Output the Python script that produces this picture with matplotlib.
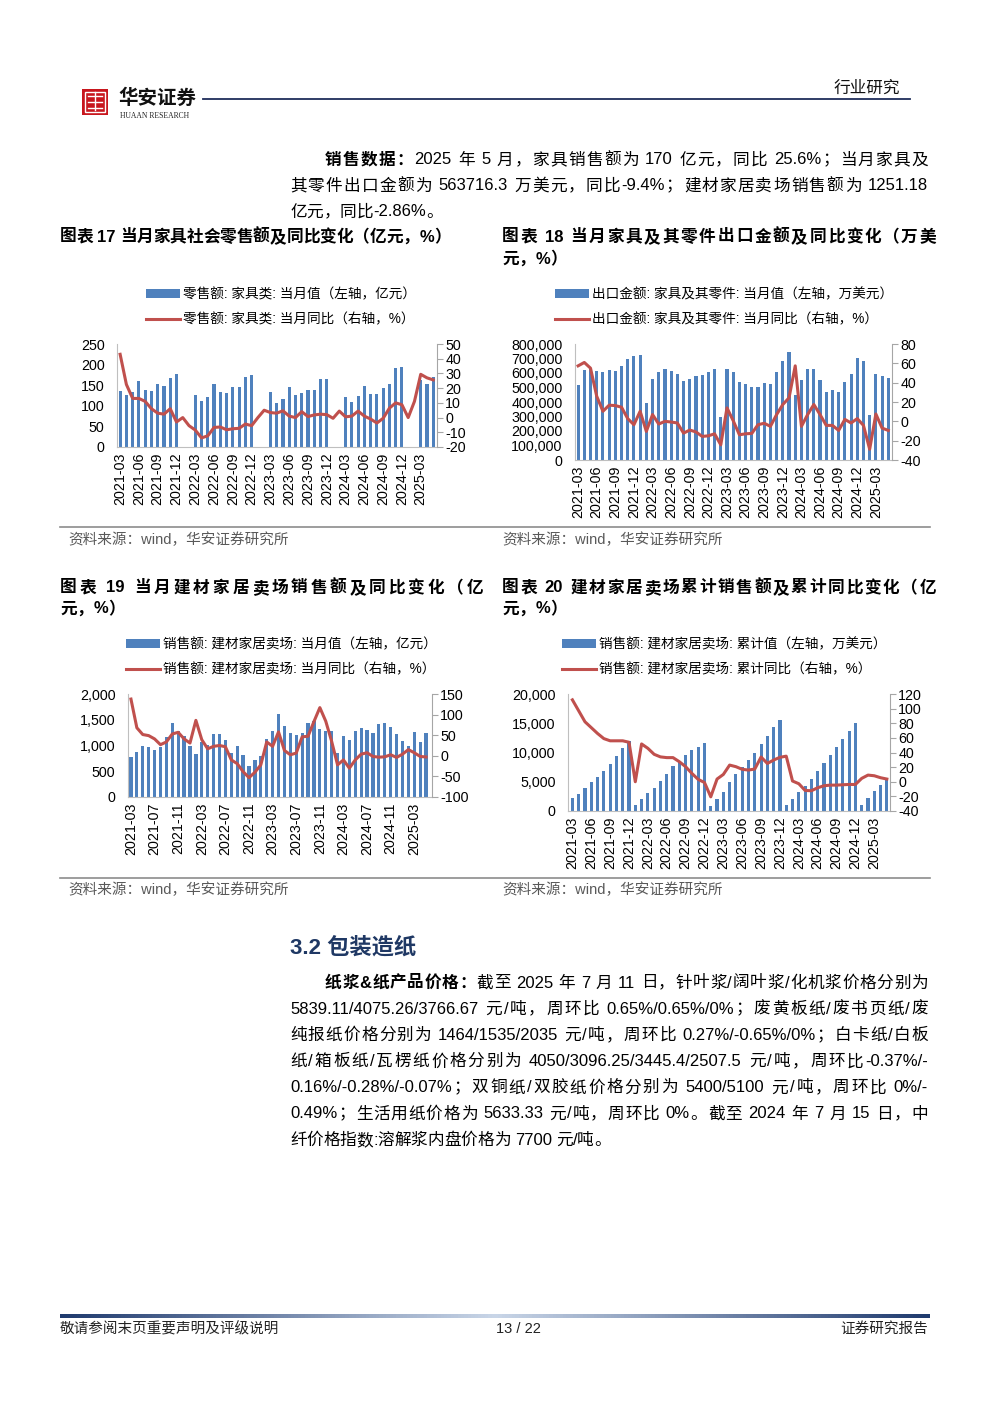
import re
import numpy as np
import pandas as pd
import matplotlib
matplotlib.use("Agg")
import matplotlib.pyplot as plt
from matplotlib.patches import Rectangle
from matplotlib.lines import Line2D
from matplotlib.colors import LinearSegmentedColormap

plt.rcParams['font.family'] = ['Liberation Sans', 'Noto Sans CJK SC', 'DejaVu Sans']
plt.rcParams['axes.unicode_minus'] = False

W, H = 1000, 1414
FAM = ['Liberation Sans', 'Noto Sans CJK SC', 'DejaVu Sans']
BLUE = '#4F81BD'
RED = '#C0504D'

# ---------------- data ----------------
months = list(pd.period_range('2021-03', '2025-05', freq='M').strftime('%Y-%m'))
nan = np.nan

# chart 17 furniture retail (亿元) and yoy (%)
furn_retail = [135, 127, 134, 161, 139, 137, 152, 149, 168, 177, nan, nan,
               126, 111, 122, 154, 134, 131, 145, 145, 170, 175, nan, nan,
               134, 108, 116, 146, 126, 130, 139, 138, 164, 166, nan, nan,
               121, 110, 124, 148, 129, 129, 143, 152, 191, 194, nan, nan,
               163, 153, 170]
furn_retail_yoy = [43, 22.5, 13, 13, 11, 6, 3, 2.3, 6, -3, 0, -5.5,
                   -8.5, -13.8, -12.4, -6.7, -6.4, -8.3, -7.6, -7.3, -4.4, -5.5, 0, 5,
                   3.4, 3, 4.6, 1, 0, 4, 0.7, 1.8, 2.3, 2, -0.5, 4.4,
                   0.5, 1, 4.4, 1, -1, -3.7, -0.5, 6.4, 10, 8.7, 0, 11,
                   29.4, 27, 25.6]

# chart 18 furniture export (万美元) and yoy (%)
furn_export = [518000, 624000, 629000, 617000, 604000, 624000, 615000, 645000, 698000, 714000,
               723000, 396000, 558000, 604000, 631000, 615000, 590000, 544000, 558000, 576000,
               585000, 606000, 629000, 295000, 631000, 604000, 537000, 523000, 502000, 505000,
               530000, 523000, 608000, 682000, 744000, 445000, 555000, 627000, 627000, 553000,
               472000, 484000, 468000, 537000, 592000, 705000, 684000, 313000, 594000, 576000,
               563716]
furn_export_yoy = [57.4, 60.9, 55, 26, 10.4, 16.7, 16.3, 14.6, 2.8, -3.5,
                   10.4, -10.4, 7, -2.8, 0, -0.7, -1.7, -12.2, -9, -11,
                   -15.6, -15, -12.9, -24.3, 13.9, 0.7, -13.9, -12.9, -12.5, -3.5,
                   -2, -5.2, 7, 17.4, 24.3, 57.4, -5.2, 7, 17.4, 7,
                   -4.2, -4.2, -9.4, 2, -1.7, 2.8, -4.2, -28.9, 7.6, -7,
                   -9.4]

# chart 19 building material mall monthly sales (亿元) and yoy (%)
mall_sales = [781, 872, 983, 970, 911, 963, 1165, 1432, 1276, 1191,
              983, 833, 1074, 1009, 1217, 1217, 1113, 859, 983, 820,
              605, 710, 788, 1126, 1289, 1621, 1387, 1243, 1198, 1250,
              1445, 1478, 1315, 1282, 1290, 860, 1185, 1107, 1282, 1348,
              1302, 1237, 1413, 1432, 1367, 1224, 1087, 996, 1270, 1074,
              1251.18]
mall_sales_yoy = [137.7, 68, 51.6, 49, 41, 27, 33.6, 53, 57, 41,
                  31, 86, 39, 17, 23, 25, 22, -10, -19, -38.5,
                  -53, -40, -22, 33.6, 23, 58, 13, 2.5, 6.6, 46,
                  47.5, 83, 117, 84, 35, -22, -10, -30, -10, 4,
                  7.4, -1.6, -3.3, -2.5, 2.5, -4, 4, 15, 7.4, -1.6,
                  -2.86]

# chart 20 building material mall cumulative sales and cumulative yoy (%)
mall_cum = [2200, 2900, 4000, 4900, 5800, 6800, 8000, 9400, 10700, 11900,
            1100, 2000, 3000, 4000, 5200, 6400, 7700, 8500, 9600, 10400, 10900, 11700,
            900, 2000, 3300, 4900, 6300, 7500, 8700, 10000, 11400, 12900, 14300, 15500,
            1100, 2000, 3200, 4300, 5500, 6900, 8200, 9500, 10900, 12300, 13700, 15000,
            1100, 2200, 3500, 4500, 5700]
mall_cum_yoy = [112, 97, 82, 74, 66, 59, 56, 56, 56, 54,
                0, 51.7, 45.7, 37.5, 34, 33, 33, 27.4, 20.6, 11.4,
                3.2, -1, -20.6, 3.7, 10, 22.8, 20.6, 17, 16, 17.4,
                33.8, 25, 29.7, 33.4, 35, 1, -2.7, -11.9, -12.3, -8.2,
                -5.5, -4.6, -4.6, -4.1, -3.7, -3.7, 4.6, 9.1, 8.2, 5.5,
                3.7]


fig = plt.figure(figsize=(10, 14.14), dpi=100)
renderer = fig.canvas.get_renderer()


def fx(x):
    return x / W


def fy(y):
    return 1 - y / H


def txt(x, y, s, size=12, **kw):
    kw.setdefault('va', 'center')
    kw.setdefault('family', FAM)
    return fig.text(fx(x), fy(y), s, fontsize=size, **kw)


def jline(segs, x0, x1, y, size=12, color='black', justify=True):
    # place a text line token by token, spread out to fill x0..x1
    items = []
    for s, w in segs:
        for tok in re.findall(r'[0-9A-Za-z.%/&\-]+| |.', s):
            items.append((tok, w))
    texts, widths = [], []
    for tok, w in items:
        if tok == ' ':
            texts.append(None)
            widths.append(size * 1.389 * 0.25)
            continue
        t = fig.text(0, 0, tok, fontsize=size, weight=w, color=color,
                     va='center', ha='left', family=FAM)
        widths.append(t.get_window_extent(renderer=renderer).width)
        texts.append(t)
    gap = 0
    if justify and len(items) > 1:
        gap = (x1 - x0 - sum(widths)) / (len(items) - 1)
    x = x0
    for t, wd in zip(texts, widths):
        if t is not None:
            t.set_position((fx(x), fy(y)))
        x += wd + gap


def axpx(l, t, r, b):
    return fig.add_axes([fx(l), fy(b), (r - l) / W, (b - t) / H])


def combo(box, bars, line, lyl, ryl, lstep, rstep, tick_every, labels, leg_xy,
          xlim=(-0.5, 50.6), width=0.5, comma=False):
    ax = axpx(*box)
    x = np.arange(len(months))
    b = ax.bar(x, bars, width=width, color=BLUE, zorder=2)
    ax.set_ylim(*lyl)
    ax.set_yticks(np.arange(lyl[0], lyl[1] + 1, lstep))
    if comma:
        ax.set_yticklabels(['{:,}'.format(int(v)) for v in ax.get_yticks()])
    ax.set_xlim(*xlim)
    ax.set_xticks(x[::tick_every])
    ax.set_xticklabels(months[::tick_every], rotation=90)
    ax2 = ax.twinx()
    l, = ax2.plot(x, line, color=RED, lw=2.2, zorder=3)
    ax2.set_ylim(*ryl)
    ax2.set_yticks(np.arange(ryl[0], ryl[1] + 1, rstep))
    for a in (ax, ax2):
        a.spines['top'].set_visible(False)
        a.set_facecolor('none')
    ax.spines['right'].set_visible(False)
    ax.spines['left'].set_color('#BFBFBF')
    ax.spines['bottom'].set_color('#BFBFBF')
    ax2.spines['left'].set_visible(False)
    ax2.spines['bottom'].set_visible(False)
    ax2.spines['right'].set_color('#A6A6A6')
    ax.tick_params(axis='y', length=0, labelsize=10.3, pad=9)
    ax.tick_params(axis='x', length=0, labelsize=10.3, pad=4)
    ax2.tick_params(axis='y', length=4, color='#A6A6A6', labelsize=10.3, pad=2)
    fig.legend([b, l], labels, loc='upper left',
               bbox_to_anchor=(fx(leg_xy[0]), fy(leg_xy[1])),
               frameon=False, prop={'family': FAM, 'size': 9.8},
               handlelength=2.5, handleheight=0.6, handletextpad=0.25,
               labelspacing=0.85, borderaxespad=0, borderpad=0)
    return ax, ax2


# ---------------- header ----------------
fig.patches.append(Rectangle((fx(82), fy(115)), 26 / W, 26 / H, transform=fig.transFigure,
                             facecolor='#C8161D', edgecolor='none'))
fig.patches.append(Rectangle((fx(85), fy(112)), 20 / W, 20 / H, transform=fig.transFigure,
                             facecolor='none', edgecolor='white', lw=1))
for yy in (96, 102, 108):
    fig.lines.append(Line2D([fx(88), fx(102)], [fy(yy), fy(yy)], transform=fig.transFigure,
                            color='white', lw=1))
fig.lines.append(Line2D([fx(95), fx(95)], [fy(92), fy(110)], transform=fig.transFigure,
                        color='white', lw=1))
txt(118, 98, '华安证券', size=14, weight='bold', color='#111111')
txt(120, 116, 'HUAAN RESEARCH', size=5.5, family=['Liberation Serif'], color='#222222')
fig.lines.append(Line2D([fx(203), fx(910)], [fy(99), fy(99)], transform=fig.transFigure,
                        color='#1F2D5A', lw=1.3))
txt(900, 88, '行业研究', size=12, ha='right', color='#111111')

# ---------------- paragraph 1 ----------------
jline([('销售数据：', 'bold'), ('2025 年 5 月，家具销售额为 170 亿元，同比 25.6%；当月家具及', 'normal')],
      325, 928, 160)
jline([('其零件出口金额为 563716.3 万美元，同比-9.4%；建材家居卖场销售额为 1251.18', 'normal')],
      290, 928, 186)
jline([('亿元，同比-2.86%。', 'normal')], 290, 928, 212, justify=False)

# ---------------- chart titles ----------------
jline([('图表 17 当月家具社会零售额及同比变化（亿元，%）', 'bold')], 60, 480, 237, justify=False)
jline([('图表 18 当月家具及其零件出口金额及同比变化（万美', 'bold')], 502, 936, 237)
jline([('元，%）', 'bold')], 502, 936, 259, justify=False)
jline([('图表 19 当月建材家居卖场销售额及同比变化（亿', 'bold')], 60, 483, 588)
jline([('元，%）', 'bold')], 60, 483, 609, justify=False)
jline([('图表 20 建材家居卖场累计销售额及累计同比变化（亿', 'bold')], 502, 936, 588)
jline([('元，%）', 'bold')], 502, 936, 609, justify=False)

# ---------------- charts ----------------
combo((117, 344, 437, 447), furn_retail, furn_retail_yoy, (0, 250), (-20, 50), 50, 10, 3,
      ['零售额: 家具类: 当月值（左轴，亿元）', '零售额: 家具类: 当月同比（右轴，%）'],
      (146, 287))
combo((575, 344, 892, 460), furn_export, furn_export_yoy, (0, 800000), (-40, 80), 100000, 20, 3,
      ['出口金额: 家具及其零件: 当月值（左轴，万美元）', '出口金额: 家具及其零件: 当月同比（右轴，%）'],
      (555, 287), comma=True)
combo((128, 694, 432, 797), mall_sales, mall_sales_yoy, (0, 2000), (-100, 150), 500, 50, 4,
      ['销售额: 建材家居卖场: 当月值（左轴，亿元）', '销售额: 建材家居卖场: 当月同比（右轴，%）'],
      (126, 637), xlim=(-0.5, 51.0), width=0.55, comma=True)
combo((568, 694, 890, 811), mall_cum, mall_cum_yoy, (0, 20000), (-40, 120), 5000, 20, 3,
      ['销售额: 建材家居卖场: 累计值（左轴，万美元）', '销售额: 建材家居卖场: 累计同比（右轴，%）'],
      (562, 637), xlim=(-0.7, 50.5), comma=True)

# ---------------- sources ----------------
for yl, ys in ((527, 540), (878, 890)):
    fig.lines.append(Line2D([fx(60), fx(930)], [fy(yl), fy(yl)], transform=fig.transFigure,
                            color='#8C8C8C', lw=1.2))
    txt(68, ys, '资料来源：wind，华安证券研究所', size=10.5, color='#595959')
    txt(502, ys, '资料来源：wind，华安证券研究所', size=10.5, color='#595959')

# ---------------- section 3.2 ----------------
txt(290, 948, '3.2 包装造纸', size=16, weight='bold', color='#1F3864')
para = [
    [('纸浆&纸产品价格：', 'bold'), ('截至 2025 年 7 月 11 日，针叶浆/阔叶浆/化机浆价格分别为', 'normal')],
    [('5839.11/4075.26/3766.67 元/吨，周环比 0.65%/0.65%/0%；废黄板纸/废书页纸/废', 'normal')],
    [('纯报纸价格分别为 1464/1535/2035 元/吨，周环比 0.27%/-0.65%/0%；白卡纸/白板', 'normal')],
    [('纸/箱板纸/瓦楞纸价格分别为 4050/3096.25/3445.4/2507.5 元/吨，周环比-0.37%/-', 'normal')],
    [('0.16%/-0.28%/-0.07%；双铜纸/双胶纸价格分别为 5400/5100 元/吨，周环比 0%/-', 'normal')],
    [('0.49%；生活用纸价格为 5633.33 元/吨，周环比 0%。截至 2024 年 7 月 15 日，中', 'normal')],
    [('纤价格指数:溶解浆内盘价格为 7700 元/吨。', 'normal')],
]
for i, segs in enumerate(para):
    x0 = 325 if i == 0 else 290
    jline(segs, x0, 928, 983 + i * 26.2, justify=(i < len(para) - 1))

# ---------------- footer ----------------
fax = axpx(60, 1314, 930, 1318)
cmap = LinearSegmentedColormap.from_list('ft', ['#1F3A6E', '#C9D6E8', '#1F3A6E'])
fax.imshow(np.linspace(0, 1, 256)[None, :], aspect='auto', cmap=cmap)
fax.axis('off')
txt(60, 1329, '敬请参阅末页重要声明及评级说明', size=10.5, color='#222222')
txt(518, 1329, '13 / 22', size=10.5, ha='center', color='#222222')
txt(928, 1329, '证券研究报告', size=10.5, ha='right', color='#222222')

fig.savefig('out.png', dpi=100)
